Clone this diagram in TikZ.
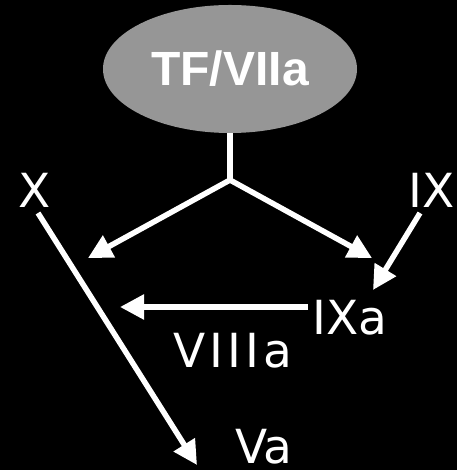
\documentclass[tikz,border=0pt]{standalone}
\usepackage{fontspec}
\setmainfont{DejaVu Sans}
\newfontfamily\headfont{Liberation Sans}
\newfontfamily\widefont[LetterSpace=9]{DejaVu Sans}
\usetikzlibrary{shapes.geometric,arrows.meta}
\definecolor{ovalgray}{RGB}{150,150,150}
\begin{document}
\begin{tikzpicture}[x=1pt,y=1pt,
  conn/.style={draw=white,line width=5.5pt},
  arr/.style={conn,-{Triangle[length=24pt,width=24pt]}},
  lbl/.style={text=white,anchor=base west,inner sep=0pt,font=\fontsize{47}{50}\selectfont}]
\useasboundingbox[fill=black] (0,0) rectangle (457,470);
\node[ellipse,fill=ovalgray,minimum width=254pt,minimum height=128pt,inner sep=0pt,
  text=white,font=\headfont\bfseries\fontsize{48}{50}\selectfont] (tf) at (230,401) {TF/VIIa};
\node[lbl] (x) at (18,262) {X};
\node[lbl] (ix) at (408,262) {IX};
\node[lbl] (ixa) at (312,135) {IXa};
\node[lbl,font=\widefont\fontsize{47}{50}\selectfont] (viiia) at (173,102) {VIIIa};
\node[lbl] (va) at (235,6) {Va};
\coordinate (j) at (230,290);
\coordinate (l) at (88,212);
\coordinate (r) at (372,212);
\coordinate (ixs) at (420,257);
\coordinate (ixt) at (373,180);
\coordinate (xs) at (38,257);
\coordinate (vat) at (197,5);
\coordinate (hs) at (308,163);
\coordinate (ht) at (120,163);
\draw[conn] (tf.south) -- (j);
\draw[arr] (j) -- (l);
\draw[arr] (j) -- (r);
\draw[arr] (ixs) -- (ixt);
\draw[arr] (xs) -- (vat);
\draw[arr] (hs) -- (ht);
\end{tikzpicture}
\end{document}
